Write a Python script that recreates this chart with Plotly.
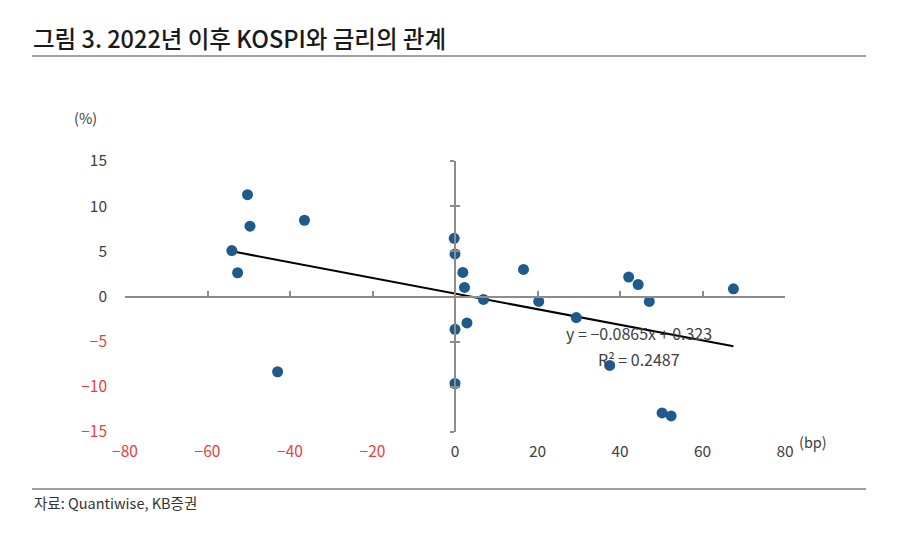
import plotly.graph_objects as go

# ---- data ----
rate_change_bp = [-54.1, -50.3, -49.7, -52.7, -36.5, -43.0,
                  -0.2, 0.0, 1.9, 2.3, 0.0, 2.9, 0.0,
                  6.9, 16.6, 20.3, 29.4, 37.5, 42.1, 44.4, 47.1, 50.2, 52.4, 67.5]
kospi_return_pct = [5.08, 11.27, 7.78, 2.63, 8.44, -8.33,
                    6.44, 4.71, 2.67, 1.0, -3.63, -2.92, -9.63,
                    -0.33, 3.0, -0.55, -2.33, -7.63, 2.15, 1.33, -0.55, -12.89, -13.22, 0.85]
slope = -0.0865
intercept = 0.323
r_squared = 0.2487
x_ticks = [-80, -60, -40, -20, 0, 20, 40, 60, 80]
y_ticks = [-15, -10, -5, 0, 5, 10, 15]

title_text = "그림 3. 2022년 이후 KOSPI와 금리의 관계"
source_text = "자료: Quantiwise, KB증권"

# ---- layout geometry ----
W, H = 900, 535
ML, MR, MT, MB = 125, 115, 161, 103
PW, PH = W - ML - MR, H - MT - MB


def px(x):
    return (x - ML) / PW


def py(y):
    return (H - MB - y) / PH


FONT = "Noto Sans CJK KR, Noto Sans, sans-serif"
GRAY = "#404040"
RED = "#e8403f"
AXIS = "#8c8c8c"
BLUE = "#1f5a8c"


def tick_label(v, neg_red=True):
    s = str(abs(v)) if v >= 0 else "\u2212" + str(abs(v))
    color = RED if (v < 0 and neg_red) else GRAY
    return f"<span style='color:{color}'>{s}</span>"


x_min, x_max = min(rate_change_bp), max(rate_change_bp)
trend_x = [x_min, x_max]
trend_y = [slope * v + intercept for v in trend_x]

fig = go.Figure()

# helper invisible traces to materialise overlay axes
fig.add_trace(go.Scatter(x=[0], y=[0], xaxis="x2", yaxis="y2", mode="markers",
                         marker=dict(opacity=0), hoverinfo="skip", showlegend=False))
fig.add_trace(go.Scatter(x=[0], y=[0], xaxis="x", yaxis="y3", mode="markers",
                         marker=dict(opacity=0), hoverinfo="skip", showlegend=False))

fig.add_trace(go.Scatter(x=trend_x, y=trend_y, mode="lines",
                         line=dict(color="black", width=2), showlegend=False,
                         hoverinfo="skip"))
fig.add_trace(go.Scatter(x=rate_change_bp, y=kospi_return_pct, mode="markers",
                         marker=dict(color=BLUE, size=11), showlegend=False))

common_x = dict(range=[-80, 80], showgrid=False, zeroline=False, fixedrange=True)
common_y = dict(range=[-15, 15], showgrid=False, zeroline=False, fixedrange=True)

fig.update_layout(
    width=W, height=H,
    margin=dict(l=ML, r=MR, t=MT, b=MB),
    paper_bgcolor="white", plot_bgcolor="white",
    font=dict(family=FONT, size=15, color=GRAY),
    xaxis=dict(**common_x, domain=[0, 1], showline=False, ticks="",
               tickmode="array", tickvals=x_ticks,
               ticktext=[tick_label(v) for v in x_ticks],
               ticklabelstandoff=8, tickfont=dict(size=15.5)),
    yaxis=dict(**common_y, domain=[0, 1], showline=False, ticks="",
               tickmode="array", tickvals=y_ticks,
               ticktext=[tick_label(v) for v in y_ticks],
               ticklabelstandoff=17, tickfont=dict(size=15.5)),
    xaxis2=dict(**common_x, overlaying="x", anchor="free", position=0.5,
                showline=True, linecolor=AXIS, linewidth=1.5,
                ticks="inside", ticklen=5, tickcolor=AXIS, tickwidth=1.5,
                tickmode="array", tickvals=x_ticks, showticklabels=False),
    yaxis2=dict(**common_y, overlaying="y", anchor="free", position=0.5,
                showline=True, linecolor=AXIS, linewidth=1.5,
                ticks="outside", ticklen=4, tickcolor=AXIS, tickwidth=1.5,
                tickmode="array", tickvals=y_ticks, showticklabels=False),
    yaxis3=dict(**common_y, overlaying="y", anchor="free", position=0.5,
                showline=False,
                ticks="inside", ticklen=4, tickcolor=AXIS, tickwidth=1.5,
                tickmode="array", tickvals=y_ticks, showticklabels=False),
)

annotations = [
    dict(text=title_text, x=px(31), y=py(38), xanchor="left", yanchor="middle",
         font=dict(size=23.5, color="#1a1a1a", family=FONT, weight=500)),
    dict(text="(%)", x=px(85), y=py(118), xanchor="center", yanchor="middle",
         font=dict(size=14.5, color=GRAY)),
    dict(text="(bp)", x=px(797), y=py(441), xanchor="left", yanchor="middle",
         font=dict(size=14.5, color=GRAY)),
    dict(text=f"y = \u22120{str(slope)[2:]}x + {intercept}", x=px(639), y=py(333),
         xanchor="center", yanchor="middle", font=dict(size=16, color=GRAY)),
    dict(text=f"R\u00b2 = {r_squared}", x=px(639), y=py(359),
         xanchor="center", yanchor="middle", font=dict(size=16, color=GRAY)),
    dict(text=source_text, x=px(32), y=py(502), xanchor="left", yanchor="middle",
         font=dict(size=14.5, color="#333333")),
]
for a in annotations:
    a.update(xref="paper", yref="paper", showarrow=False)
fig.update_layout(annotations=annotations)

fig.update_layout(shapes=[
    dict(type="line", xref="paper", yref="paper", x0=px(32), x1=px(866),
         y0=py(56), y1=py(56), line=dict(color="#808080", width=1.5)),
    dict(type="line", xref="paper", yref="paper", x0=px(32), x1=px(866),
         y0=py(489), y1=py(489), line=dict(color="#808080", width=1.5)),
])

fig.write_html("out.html")
